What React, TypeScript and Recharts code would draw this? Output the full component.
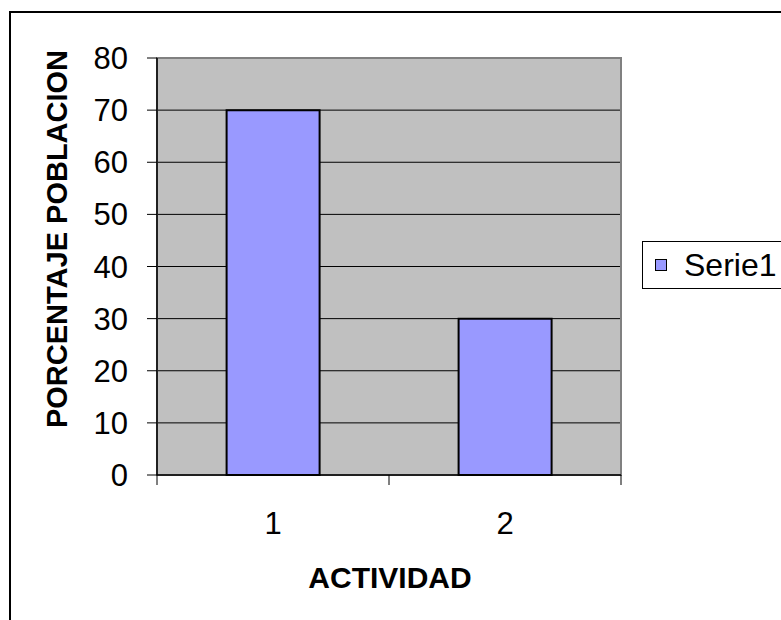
import { BarChart, Bar, XAxis, YAxis, CartesianGrid, Legend, ReferenceArea, Label } from "recharts";

// values
const CATEGORIES = ["1", "2"];
const SERIE1 = [70, 30];
const SERIES_NAME = "Serie1";
const Y_TICKS = [0, 10, 20, 30, 40, 50, 60, 70, 80];
const X_TITLE = "ACTIVIDAD";
const Y_TITLE = "PORCENTAJE POBLACION";

const data = CATEGORIES.map((c, i) => ({ actividad: c, serie1: SERIE1[i] }));

const FONT = "Arial, 'Liberation Sans', Helvetica, sans-serif";
const W = 781;
const H = 620;
const PLOT_W = 464;
const HALF_BAND = PLOT_W / CATEGORIES.length / 2;

// Excel-style category ticks: label at the centre, tick marks on the band edges
function XTick(props: any) {
  const { x, y, payload, index, visibleTicksCount } = props;
  const top = y - 37;
  return (
    <g>
      <line x1={x - HALF_BAND} x2={x - HALF_BAND} y1={top} y2={top + 10} stroke="#000" />
      {index === visibleTicksCount - 1 && (
        <line x1={x + HALF_BAND} x2={x + HALF_BAND} y1={top} y2={top + 10} stroke="#000" />
      )}
      <text x={x} y={y} dy="0.71em" textAnchor="middle" fontFamily={FONT} fontSize={31} fill="#000">
        {payload.value}
      </text>
    </g>
  );
}

function LegendBox({ payload }: any) {
  return (
    <div
      style={{
        border: "1px solid #000",
        background: "#fff",
        height: 48,
        boxSizing: "border-box",
        display: "flex",
        alignItems: "center",
        paddingLeft: 12,
      }}
    >
      {(payload || []).map((entry: any) => (
        <span key={entry.value} style={{ display: "flex", alignItems: "center" }}>
          <span
            style={{
              width: 10,
              height: 10,
              background: entry.color,
              border: "1px solid #000",
              marginRight: 17,
            }}
          />
          <span style={{ fontFamily: FONT, fontSize: 32, color: "#000", lineHeight: 1 }}>{entry.value}</span>
        </span>
      ))}
    </div>
  );
}

export default function App() {
  return (
    <div style={{ position: "absolute", left: 0, top: 0, width: W, height: H, overflow: "hidden", background: "#fff" }}>
      <div
        style={{
          position: "absolute",
          left: 9,
          top: 11,
          width: 820,
          height: 720,
          border: "2px solid #000",
        }}
      />
      <div style={{ position: "absolute", left: 0, top: 0 }}>
        <BarChart
          width={W}
          height={H}
          data={data}
          margin={{ top: 58, right: 160, bottom: 85, left: 97 }}
          barCategoryGap="30%"
        >
          <CartesianGrid vertical={false} stroke="#000" fill="#C0C0C0" fillOpacity={1} />
          <ReferenceArea y1={0} y2={80} fill="none" stroke="#808080" strokeWidth={2} ifOverflow="visible" />
          <XAxis
            dataKey="actividad"
            height={60}
            tickLine={false}
            tickSize={10}
            tickMargin={27}
            axisLine={{ stroke: "#000", strokeWidth: 1.5 }}
            tick={<XTick />}
            interval={0}
          >
            <Label
              content={() => (
                <text
                  x={390}
                  y={588}
                  textAnchor="middle"
                  fontFamily={FONT}
                  fontWeight="bold"
                  fontSize={30}
                  fill="#000"
                >
                  {X_TITLE}
                </text>
              )}
            />
          </XAxis>
          <YAxis
            width={60}
            domain={[0, 80]}
            ticks={Y_TICKS}
            interval={0}
            tickSize={10}
            tickMargin={19}
            tick={{ fontFamily: FONT, fontSize: 31, fill: "#000" }}
            tickLine={{ stroke: "#000" }}
            axisLine={{ stroke: "#000", strokeWidth: 1.5 }}
          >
            <Label
              content={() => (
                <text
                  x={67}
                  y={239}
                  transform="rotate(-90, 67, 239)"
                  textAnchor="middle"
                  fontFamily={FONT}
                  fontWeight="bold"
                  fontSize={29}
                  fill="#000"
                >
                  {Y_TITLE}
                </text>
              )}
            />
          </YAxis>
          <Legend
            layout="vertical"
            align="center"
            verticalAlign="middle"
            wrapperStyle={{ left: 642, top: 241, width: 170, height: 48 }}
            content={<LegendBox />}
          />
          <Bar
            dataKey="serie1"
            name={SERIES_NAME}
            fill="#9999FF"
            stroke="#000"
            strokeWidth={2}
            isAnimationActive={false}
          />
        </BarChart>
      </div>
    </div>
  );
}
